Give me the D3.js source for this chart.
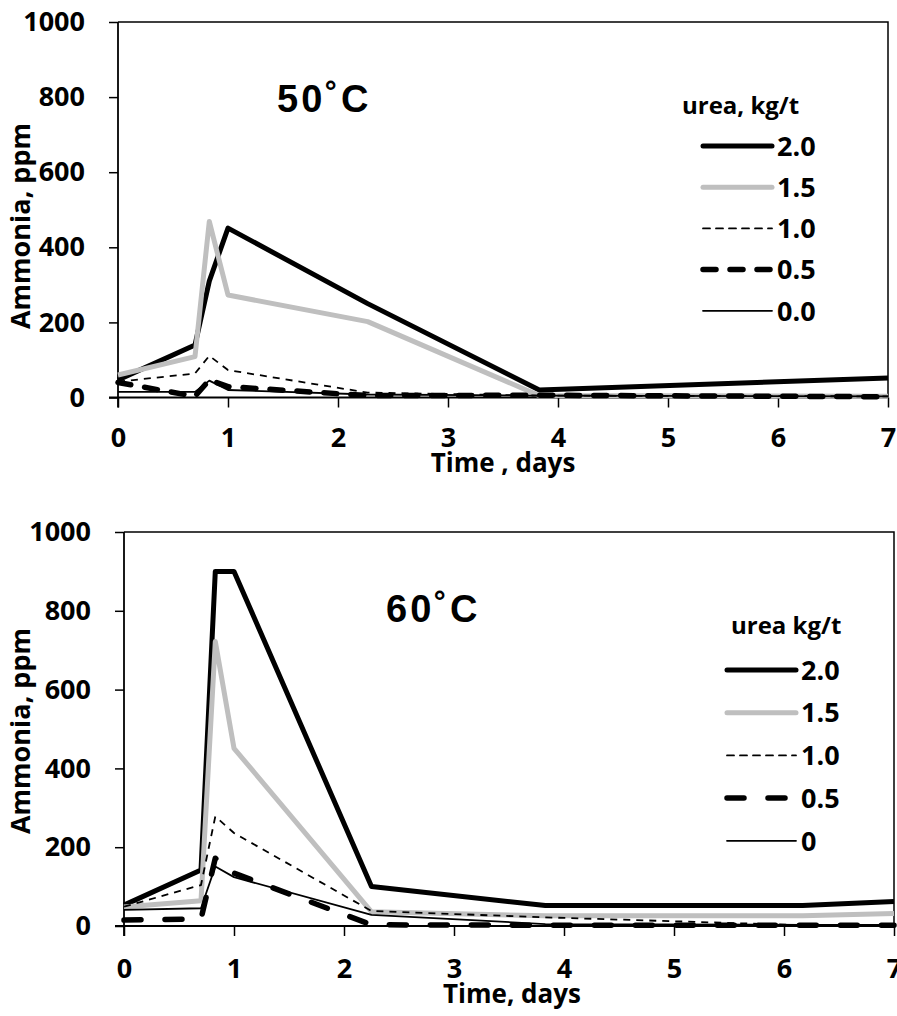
<!DOCTYPE html>
<html><head><meta charset="utf-8">
<script src="https://cdn.jsdelivr.net/npm/d3@7"></script>
<style>
body{margin:0;background:#fff;}
svg text{font-family:"Open Sans",Calibri,sans-serif;font-weight:700;fill:#000;}
</style></head><body>
<svg id="c" width="897" height="1016"></svg>
<script>
// ---------- data ----------
const seriesNames = ["2.0","1.5","1.0","0.5","0.0"];
const seriesNamesBottom = ["2.0","1.5","1.0","0.5","0"];
const xTicks = [0,1,2,3,4,5,6,7];
const yTicks = [0,200,400,600,800,1000];

// 50 C panel
const days50 = [0, 0.7, 0.83, 1.0, 2.27, 3.83, 7];
const u20_50 = [47, 140, 310, 451, 250, 20, 52];
const u15_50 = [60, 109, 469, 273, 202, 5, 3];
const u10_50 = [42, 64, 111, 73, 13, 5, 3];
const u05_50 = [40, 3, 47, 29, 5, 6, 2];
const u00_50 = [15, 15, 45, 20, 8, 5, 3];

// 60 C panel
const days60 = [0, 0.7, 0.83, 1.0, 2.25, 3.83, 6.17, 7];
const u20_60 = [53, 142, 900, 900, 100, 52, 52, 62];
const u15_60 = [48, 64, 722, 451, 36, 26, 26, 32];
const u10_60 = [49, 104, 278, 236, 38, 22, 2, 2];
const u05_60 = [15, 18, 172, 134, 3, 2, 2, 2];
const u00_60 = [41, 45, 151, 124, 28, 5, 3, 3];

// ---------- styles ----------
const stylesTop = [
  {color:"#000", width:5, dash:null, cap:"butt"},
  {color:"#bfbfbf", width:5, dash:null, cap:"butt"},
  {color:"#000", width:1.8, dash:"7,6", cap:"butt"},
  {color:"#000", width:5.5, dash:"13,14", cap:"round"},
  {color:"#000", width:1.8, dash:null, cap:"butt"}
];
const stylesBottom = [
  {color:"#000", width:5, dash:null, cap:"butt"},
  {color:"#bfbfbf", width:5, dash:null, cap:"butt"},
  {color:"#000", width:1.8, dash:"7,6", cap:"butt"},
  {color:"#000", width:5.5, dash:"17,24", cap:"round"},
  {color:"#000", width:1.8, dash:null, cap:"butt"}
];

const svg = d3.select("#c");

function panel(cfg){
  const x = d3.scaleLinear().domain([0,7]).range([cfg.x0, cfg.x1]);
  const y = d3.scaleLinear().domain([0,1000]).range([cfg.y0, cfg.y1]);
  const g = svg.append("g");

  // plot box (top & right)
  g.append("path")
    .attr("d", `M${cfg.x0},${cfg.y1}H${cfg.x1}V${cfg.y0}`)
    .attr("fill","none").attr("stroke","#000").attr("stroke-width",1.5);

  // axes
  const ya = g.append("g").attr("transform",`translate(${cfg.x0},0)`)
    .call(d3.axisLeft(y).tickValues(yTicks).tickSize(9).tickPadding(cfg.yPad).tickFormat(d3.format("d")));
  const xa = g.append("g").attr("transform",`translate(0,${cfg.y0})`)
    .call(d3.axisBottom(x).tickValues(xTicks).tickSize(10).tickPadding(cfg.xPad).tickFormat(d3.format("d")));
  [ya,xa].forEach(a=>{
    a.select(".domain").attr("stroke","#000").attr("stroke-width",1.8);
    a.selectAll(".tick line").attr("stroke","#000").attr("stroke-width",1.5);
    a.selectAll("text").style("font-size","27px").style("font-family",'"Open Sans",sans-serif').style("font-weight","700");
  });
  ya.select(".domain").attr("d",`M0,${cfg.y1}V${cfg.y0+10}`);
  xa.select(".domain").attr("d",`M${cfg.x0-9},0H${cfg.x1}`);

  // lines
  const line = d3.line().x(d=>x(d[0])).y(d=>y(d[1]));
  cfg.series.forEach((vals,i)=>{
    const st = cfg.styles[i];
    g.append("path")
      .datum(cfg.days.map((d,j)=>[d,vals[j]]))
      .attr("d", line)
      .attr("fill","none")
      .attr("stroke", st.color)
      .attr("stroke-width", st.width)
      .attr("stroke-linejoin","round")
      .attr("stroke-linecap", st.cap)
      .attr("stroke-dasharray", st.dash);
  });

  // axis titles
  g.append("text")
    .attr("transform",`translate(${cfg.yTitleX},${cfg.yTitleY}) rotate(-90)`)
    .attr("text-anchor","middle")
    .style("font-size","27px")
    .text("Ammonia, ppm");
  g.append("text")
    .attr("x", cfg.xTitleX).attr("y", cfg.xTitleY)
    .attr("text-anchor","middle")
    .style("font-size","26px")
    .text(cfg.xTitle);

  // temperature label
  g.append("text")
    .attr("x", cfg.tX).attr("y", cfg.tY)
    .style("font-family",'"Liberation Sans",Arial,sans-serif')
    .style("font-size","38px")
    .style("letter-spacing","3px")
    .text(cfg.temp);

  // legend
  const lg = g.append("g");
  lg.append("text").attr("x",cfg.lgTitleX).attr("y",cfg.lgTitleY)
    .style("font-size","24px").text(cfg.lgTitle);
  cfg.names.forEach((n,i)=>{
    const st = cfg.styles[i];
    const yy = cfg.lgY0 + i*cfg.lgDy;
    lg.append("line")
      .attr("x1",cfg.lgX1).attr("x2",cfg.lgX2).attr("y1",yy).attr("y2",yy)
      .attr("stroke",st.color).attr("stroke-width",st.width)
      .attr("stroke-linecap","round")
      .attr("stroke-dasharray", st.dash);
    lg.append("text").attr("x",cfg.lgX2+5).attr("y",yy).attr("dy","0.36em")
      .style("font-size","27px").text(n);
  });
}

panel({
  x0:118, x1:888, y0:397.5, y1:22,
  yPad:24, xPad:20,
  days:days50,
  series:[u20_50,u15_50,u10_50,u05_50,u00_50],
  styles:stylesTop, names:seriesNames,
  yTitleX:30, yTitleY:226,
  xTitleX:503, xTitleY:472, xTitle:"Time , days",
  tX:277, tY:112, temp:"50˚C",
  lgTitle:"urea, kg/t", lgTitleX:682, lgTitleY:114,
  lgX1:703, lgX2:772, lgY0:146, lgDy:41.2
});

panel({
  x0:124, x1:894, y0:926, y1:532,
  yPad:24, xPad:23,
  days:days60,
  series:[u20_60,u15_60,u10_60,u05_60,u00_60],
  styles:stylesBottom, names:seriesNamesBottom,
  yTitleX:30, yTitleY:731,
  xTitleX:512, xTitleY:1003, xTitle:"Time, days",
  tX:386, tY:622, temp:"60˚C",
  lgTitle:"urea kg/t", lgTitleX:731, lgTitleY:634,
  lgX1:727, lgX2:796, lgY0:670, lgDy:42.7
});
</script>
</body></html>
